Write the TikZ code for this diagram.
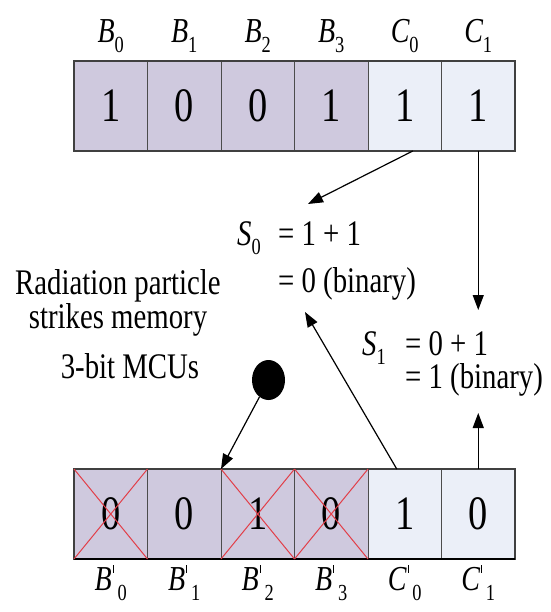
\documentclass[tikz,border=0pt]{standalone}
\usepackage{fontspec}
\setmainfont{Liberation Serif}[FakeStretch=0.8]
\usepackage{xcolor}
\usepackage{tikz}
\usetikzlibrary{shapes.geometric,arrows.meta,positioning,calc}
\definecolor{lila}{RGB}{207,201,222}
\definecolor{celeste}{RGB}{235,239,248}
\definecolor{rojoX}{RGB}{226,62,72}
\newcommand{\sbit}[2]{{\itshape #1}\raisebox{-0.26em}{\fontsize{23}{23}\selectfont #2}}
\newcommand{\sbitp}[2]{{\itshape #1}\hspace{1pt}\rule[0.5em]{0.9pt}{0.22em}\raisebox{-0.3em}{\fontsize{23}{23}\selectfont\,#2}}
\tikzset{
  celda/.style={rectangle, draw=gray!60!black, line width=1pt,
                minimum width=73.5pt, minimum height=90pt,
                inner sep=0pt, outer sep=0pt, font=\fontsize{48}{48}\selectfont},
  marco/.style={draw=gray!50!black, line width=1.6pt},
  cruz/.style={draw=rojoX, line width=1pt},
  flecha/.style={-{Triangle[length=15pt,width=11pt]}, line width=1.2pt},
  etiqueta/.style={anchor=base, inner sep=0pt, font=\fontsize{35}{35}\selectfont},
  texto/.style={anchor=base west, inner sep=0pt},
  nota/.style={anchor=base, inner sep=0pt},
  particula/.style={ellipse, fill=black, minimum width=33pt, minimum height=40pt, inner sep=0pt}
}
\begin{document}
\begin{tikzpicture}[x=1pt, y=-1pt, font=\fontsize{36}{38}\selectfont]
  \useasboundingbox (0,0) rectangle (550,612);
  % --- Palabra original (datos + chequeo) ---
  \foreach \v/\c [count=\i from 0] in {1/lila,0/lila,0/lila,1/lila,1/celeste,1/celeste}
    \node[celda, fill=\c] (t\i) at ({110.75+73.5*\i},106) {\v};
  \draw[marco] (t0.north west) rectangle (t5.south east);
  \foreach \l/\s [count=\i from 0] in {B/0,B/1,B/2,B/3,C/0,C/1}
    \node[etiqueta] (lt\i) at ($(t\i.north)+(0,-18)$) {\sbit{\l}{\s}};

  % --- Palabra tras el impacto ---
  \foreach \v/\c [count=\i from 0] in {0/lila,0/lila,1/lila,0/lila,1/celeste,0/celeste}
    \node[celda, fill=\c] (b\i) at ({110.75+73.5*\i},514) {\v};
  \draw[marco] (b0.north west) rectangle (b5.south east);
  \draw[line width=2.4pt] (b0.south west) -- (b5.south east);
  \foreach \n in {b0,b2,b3}
    \draw[cruz] (\n.north west) -- (\n.south east) (\n.south west) -- (\n.north east);
  \foreach \l/\s [count=\i from 0] in {B/0,B/1,B/2,B/3,C/0,C/1}
    \node[etiqueta] (lb\i) at ($(b\i.south)+(0,31)$) {\sbitp{\l}{\s}};

  % --- Sumas de chequeo ---
  \node[texto] (s0)  at (237,245) {\sbit{S}{0}};
  \node[texto] (s0a) at (278,245) {= 1 + 1};
  \node[texto] (s0b) at (278,292) {= 0 (binary)};
  \node[texto] (s1)  at (362,355) {\sbit{S}{1}};
  \node[texto] (s1a) at (405,355) {= 0 + 1};
  \node[texto] (s1b) at (405,388) {= 1 (binary)};

  % --- Particula ---
  \node[nota] (rad1) at (118,294) {Radiation particle};
  \node[nota] (rad2) at (118,328) {strikes memory};
  \node[nota] (mcu)  at (130,378) {3-bit MCUs};
  \node[particula] (dot) at (268.5,380) {};

  % --- Flechas ---
  \coordinate (p0) at (308,204);
  \coordinate (p1) at ($(t5.south)+(0,159)$);
  \coordinate (p2) at (305,312);
  \coordinate (p3) at ($(b5.north)+(0,-56)$);
  \draw[flecha] ($(t4.south)+(8,0)$) -- (p0);
  \draw[flecha] (t5.south) -- (p1);
  \draw[flecha] ($(b4.north)+(-8,0)$) -- (p2);
  \draw[flecha] (b5.north) -- (p3);
  \draw[flecha] (dot) -- (b1.north east);
\end{tikzpicture}
\end{document}
